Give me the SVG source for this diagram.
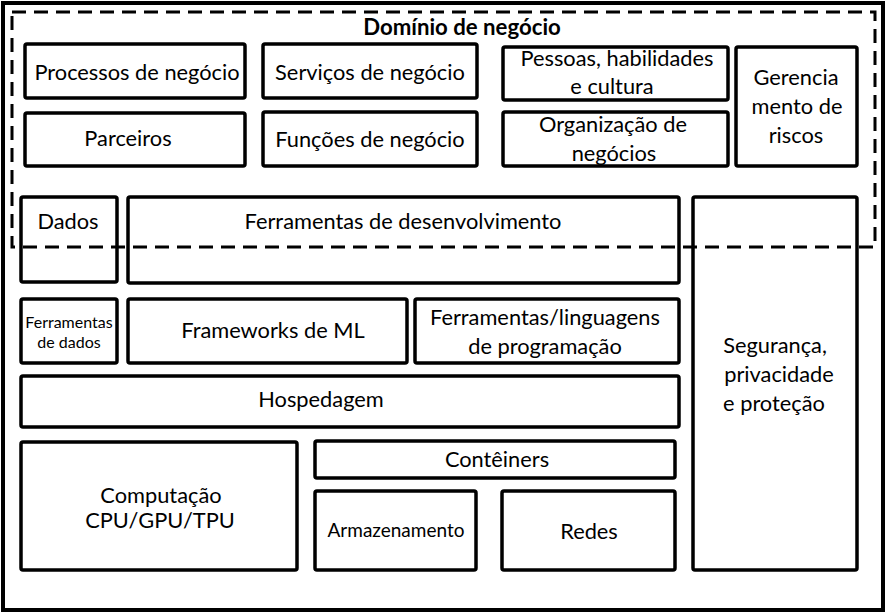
<svg xmlns="http://www.w3.org/2000/svg" width="887" height="614" viewBox="0 0 887 614">
<style>
.b{fill:#fff;stroke:#000;stroke-width:3.5}
text{font-family:Lato,"Open Sans","Liberation Sans",sans-serif;font-size:21.8px;fill:#000;text-anchor:middle}
.s{font-size:16px}
.m{font-size:19px}
.t{font-weight:bold;font-size:22.2px}
</style>
<rect x="0" y="0" width="887" height="614" fill="#fff"/>
<rect id="outer" x="3" y="3" width="880" height="607" fill="none" stroke="#000" stroke-width="4"/>
<g id="n-processos"><rect class="b" x="25" y="44" width="220" height="54" rx="2"/><text x="137" y="80">Processos de negócio</text></g>
<g id="n-servicos"><rect class="b" x="263" y="44" width="214" height="54" rx="2"/><text x="370" y="80">Serviços de negócio</text></g>
<g id="n-pessoas"><rect class="b" x="503" y="47" width="225" height="53" rx="2"/><text x="617" y="66">Pessoas, habilidades</text><text x="612" y="94">e cultura</text></g>
<g id="n-gerencia"><rect class="b" x="736" y="47" width="121" height="119" rx="2"/><text x="796" y="85">Gerencia</text><text x="797" y="114">mento de</text><text x="796" y="143">riscos</text></g>
<g id="n-parceiros"><rect class="b" x="25" y="113" width="220" height="53" rx="2"/><text x="128" y="146">Parceiros</text></g>
<g id="n-funcoes"><rect class="b" x="263" y="112" width="214" height="54" rx="2"/><text x="370" y="147">Funções de negócio</text></g>
<g id="n-organizacao"><rect class="b" x="503" y="112" width="225" height="54" rx="2"/><text x="613" y="132">Organização de</text><text x="614" y="161">negócios</text></g>
<g id="n-dados"><rect class="b" x="21" y="197" width="96" height="85" rx="2"/><text x="68" y="229">Dados</text></g>
<g id="n-ferrdev"><rect class="b" x="128" y="197" width="551" height="86" rx="2"/><text x="403" y="229">Ferramentas de desenvolvimento</text></g>
<g id="n-seguranca"><rect class="b" x="693" y="197" width="164" height="373" rx="2"/><text x="775" y="353">Segurança,</text><text x="779" y="382">privacidade</text><text x="774" y="411">e proteção</text></g>
<g id="n-ferrdados"><rect class="b" x="21" y="299" width="96" height="64" rx="2"/><text class="s" x="69" y="328">Ferramentas</text><text class="s" x="69" y="348">de dados</text></g>
<g id="n-frameworks"><rect class="b" x="128" y="299" width="279" height="64" rx="2"/><text x="273" y="338">Frameworks de ML</text></g>
<g id="n-linguagens"><rect class="b" x="415" y="299" width="264" height="64" rx="2"/><text x="545" y="325">Ferramentas/linguagens</text><text x="545" y="354">de programação</text></g>
<g id="n-hospedagem"><rect class="b" x="21" y="376" width="658" height="51" rx="2"/><text x="321" y="407">Hospedagem</text></g>
<g id="n-computacao"><rect class="b" x="21" y="442" width="276" height="128" rx="2"/><text x="161" y="503">Computação</text><text x="160" y="528">CPU/GPU/TPU</text></g>
<g id="n-conteiners"><rect class="b" x="315" y="441" width="360" height="37" rx="2"/><text x="497" y="467">Contêiners</text></g>
<g id="n-armazenamento"><rect class="b" x="315" y="491" width="161" height="79" rx="2"/><text class="m" x="396" y="537">Armazenamento</text></g>
<g id="n-redes"><rect class="b" x="502" y="491" width="173" height="79" rx="2"/><text x="589" y="539">Redes</text></g>
<g id="n-dominio"><rect x="12" y="12" width="863" height="235" fill="none" stroke="#000" stroke-width="3" stroke-dasharray="14 8"/><text class="t" x="462" y="35">Domínio de negócio</text></g>
<g id="connectors"></g>
</svg>
